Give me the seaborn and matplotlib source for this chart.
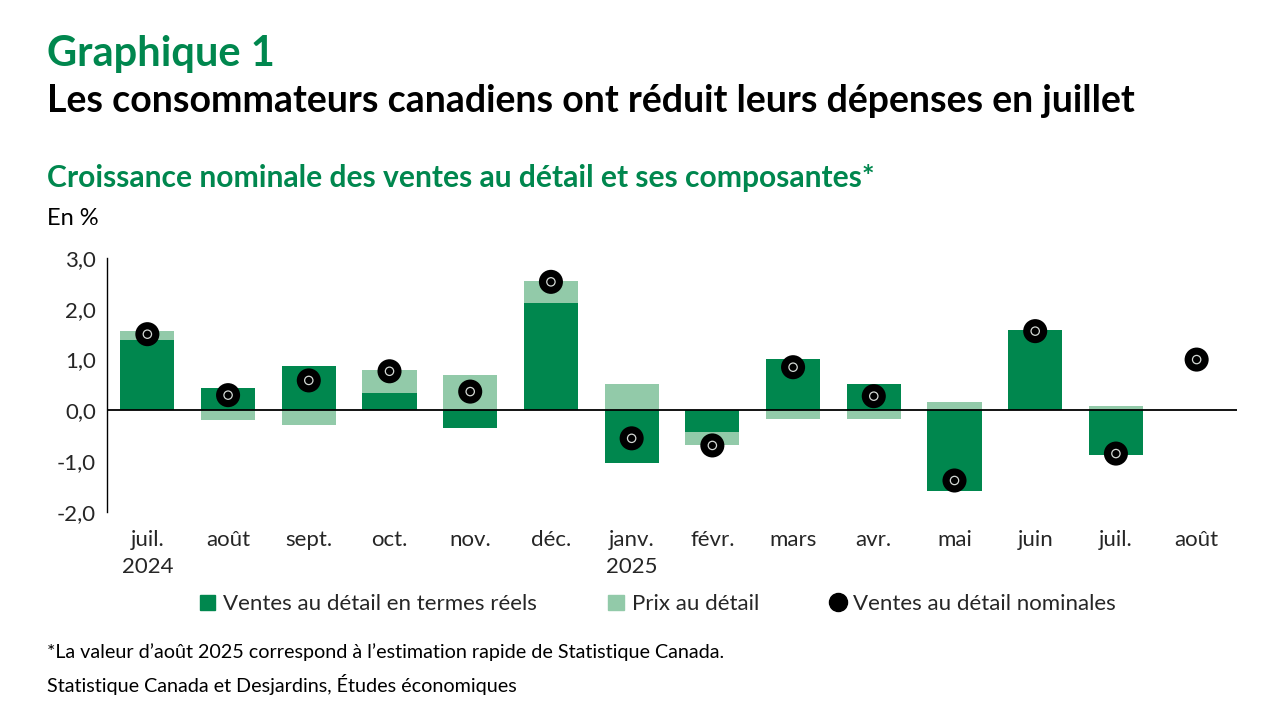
import matplotlib.pyplot as plt
import matplotlib.ticker as mtick
import numpy as np
import pandas as pd
import seaborn as sns
from matplotlib.lines import Line2D
from matplotlib.patches import Patch

# ─── Data ───────────────────────────────────────────────────────────────────
months = ["juil.\n2024", "août", "sept.", "oct.", "nov.", "déc.", "janv.\n2025",
          "févr.", "mars", "avr.", "mai", "juin", "juil.", "août"]
real_sales = [1.38, 0.45, 0.87, 0.35, -0.35, 2.11, -1.04, -0.43, 1.02, 0.51, -1.59, 1.59, -0.87, np.nan]
retail_prices = [0.18, -0.18, -0.28, 0.44, 0.69, 0.43, 0.51, -0.26, -0.17, -0.17, 0.16, 0.0, 0.08, np.nan]
nominal_sales = [1.50, 0.30, 0.59, 0.77, 0.37, 2.53, -0.55, -0.69, 0.85, 0.28, -1.38, 1.56, -0.85, 1.00]

# ─── Style ──────────────────────────────────────────────────────────────────
DARK = "#00874E"
LIGHT = "#92CAA9"
sns.set_theme(style="white")
plt.rcParams["font.family"] = ["Lato", "DejaVu Sans"]

df = pd.DataFrame({"pos": np.arange(len(months)), "real": real_sales,
                   "price": retail_prices, "nominal": nominal_sales})
same_sign = np.sign(df["real"]) == np.sign(df["price"])
df["price_bottom"] = np.where(same_sign, df["real"], 0.0)

fig = plt.figure(figsize=(12.8, 7.2), dpi=100)
ax = fig.add_axes([0.0836, 0.2889, 0.8828, 0.3528])

ax.bar(df["pos"], df["real"], width=0.67, color=DARK, linewidth=0, zorder=2)
ax.bar(df["pos"], df["price"], bottom=df["price_bottom"], width=0.67, color=LIGHT,
       linewidth=0, zorder=2)
ax.axhline(0, color="black", lw=1.3, zorder=3)

sns.scatterplot(data=df, x="pos", y="nominal", ax=ax, s=300, color="black",
                edgecolor="none", zorder=4, legend=False)
sns.scatterplot(data=df, x="pos", y="nominal", ax=ax, s=36, facecolor="none",
                edgecolor="#d4d9d5", linewidth=0.9, zorder=5, legend=False)

ax.set_xlim(-0.5, len(months) - 0.5)
ax.set_ylim(-2, 3)
ax.set_yticks([-2, -1, 0, 1, 2, 3])
ax.yaxis.set_major_formatter(mtick.FuncFormatter(lambda v, _: f"{v:.1f}".replace(".", ",")))
ax.set_xticks(df["pos"])
ax.set_xticklabels(months, linespacing=1.45, va="top")
ax.set_xlabel("")
ax.set_ylabel("")
for s in ["top", "right", "bottom"]:
    ax.spines[s].set_visible(False)
ax.spines["left"].set_color("black")
ax.spines["left"].set_linewidth(1.0)
ax.tick_params(axis="y", direction="out", length=5, width=1, color="black", labelsize=16, pad=3)
ax.tick_params(axis="x", length=0, labelsize=16, pad=13)

# ─── Titles ─────────────────────────────────────────────────────────────────
fig.text(0.037, 0.925, "Graphique 1", fontsize=30, fontweight="bold", color=DARK, va="center")
fig.text(0.037, 0.86, "Les consommateurs canadiens ont réduit leurs dépenses en juillet",
         fontsize=27, fontweight="bold", color="black", va="center")
fig.text(0.037, 0.753, "Croissance nominale des ventes au détail et ses composantes*",
         fontsize=21.6, fontweight="bold", color=DARK, va="center")
fig.text(0.037, 0.697, "En %", fontsize=17, color="black", va="center")

# ─── Legend ─────────────────────────────────────────────────────────────────
handles = [
    Patch(color=DARK, label="Ventes au détail en termes réels"),
    Patch(color=LIGHT, label="Prix au détail"),
    Line2D([], [], marker="o", ls="none", color="black", markersize=13,
           label="Ventes au détail nominales"),
]
fig.legend(handles=handles, loc="center", bbox_to_anchor=(0.514, 0.161), ncol=3,
           frameon=False, fontsize=16, handlelength=0.7, handleheight=0.7,
           handletextpad=0.35, columnspacing=3.2)

# ─── Footnotes ──────────────────────────────────────────────────────────────
fig.text(0.037, 0.094, "*La valeur d’août 2025 correspond à l’estimation rapide de Statistique Canada.",
         fontsize=14.2, color="black", va="center")
fig.text(0.037, 0.049, "Statistique Canada et Desjardins, Études économiques",
         fontsize=14.2, color="black", va="center")

fig.savefig("out.png", dpi=100)
